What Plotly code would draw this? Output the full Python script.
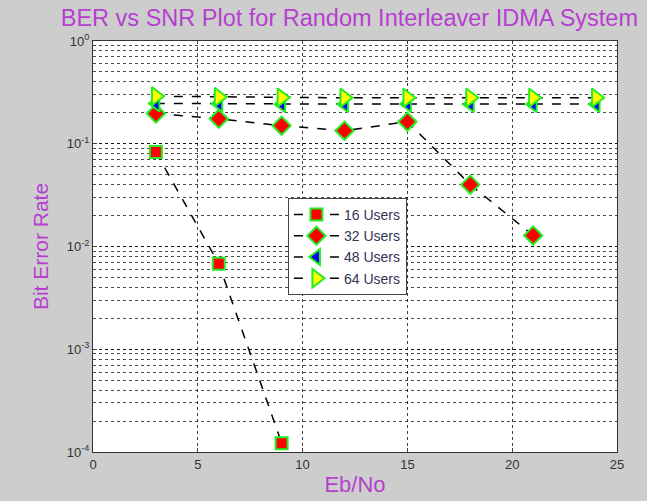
import plotly.graph_objects as go

x16 = [3, 6, 9]
y16 = [0.083, 0.0068, 0.000122]
x32 = [3, 6, 9, 12, 15, 18, 21]
y32 = [0.197, 0.175, 0.15, 0.134, 0.164, 0.04, 0.0128]
x48 = [3, 6, 9, 12, 15, 18, 21, 24]
y48 = [0.247, 0.245, 0.243, 0.243, 0.244, 0.243, 0.243, 0.243]
x64 = [3, 6, 9, 12, 15, 18, 21, 24]
y64 = [0.29, 0.285, 0.282, 0.28, 0.28, 0.28, 0.28, 0.28]
names = ["16 Users", "32 Users", "48 Users", "64 Users"]
symbols = ["square", "diamond", "triangle-left", "triangle-right"]
fills = ["red", "red", "blue", "yellow"]
sizes = [12, 14, 14, 16]

fig = go.Figure()
for xs, ys, n, s, f, sz in zip([x16, x32, x48, x64], [y16, y32, y48, y64], names, symbols, fills, sizes):
    fig.add_trace(go.Scatter(
        x=xs, y=ys, name=n, mode="lines+markers",
        line=dict(color="black", width=1.5, dash="dash"),
        marker=dict(symbol=s, size=sz, color=f, line=dict(color="#22ee22", width=2)),
    ))

grid = dict(showgrid=True, gridcolor="rgba(0,0,0,0.75)", griddash="dot", gridwidth=1)
fig.update_layout(
    width=647, height=501,
    paper_bgcolor="#cdcdcd", plot_bgcolor="white",
    margin=dict(l=93, r=30, t=41, b=49),
    title=dict(text="BER vs SNR Plot for Random Interleaver IDMA System", x=0.54, xanchor="center",
               y=0.964, yanchor="middle", font=dict(family="Arial", size=23.5, color="#b63fd0")),
    font=dict(family="Arial", size=13, color="#333333"),
    legend=dict(x=0.372, y=0.618, xanchor="left", yanchor="top", bgcolor="white",
                bordercolor="#444444", borderwidth=1, font=dict(size=14, color="#333355"),
                tracegroupgap=0, itemwidth=45),
    showlegend=True,
)
fig.update_xaxes(range=[0, 25], dtick=5, showline=True, linecolor="#333333", linewidth=1, mirror=True,
                 ticks="inside", ticklen=4, zeroline=False, automargin=False,
                 title=dict(text="Eb/No", font=dict(size=22, color="#b63fd0"), standoff=6), **grid)
fig.update_yaxes(type="log", range=[-4, 0], tickvals=[1, 0.1, 0.01, 0.001, 0.0001],
                 ticktext=["10<sup>0</sup>", "10<sup>-1</sup>", "10<sup>-2</sup>", "10<sup>-3</sup>", "10<sup>-4</sup>"],
                 showline=True, linecolor="#333333", linewidth=1, mirror=True, ticks="inside", ticklen=4,
                 automargin=False,
                 minor=dict(dtick="D1", showgrid=True, gridcolor="rgba(0,0,0,0.7)", griddash="dot", ticks=""),
                 title=dict(text="Bit Error Rate", font=dict(size=21, color="#b63fd0"), standoff=12), **grid)
fig.write_html("out.html", config={"displayModeBar": False},
               post_script="document.body.style.margin='0';document.body.style.background='#cdcdcd';")
